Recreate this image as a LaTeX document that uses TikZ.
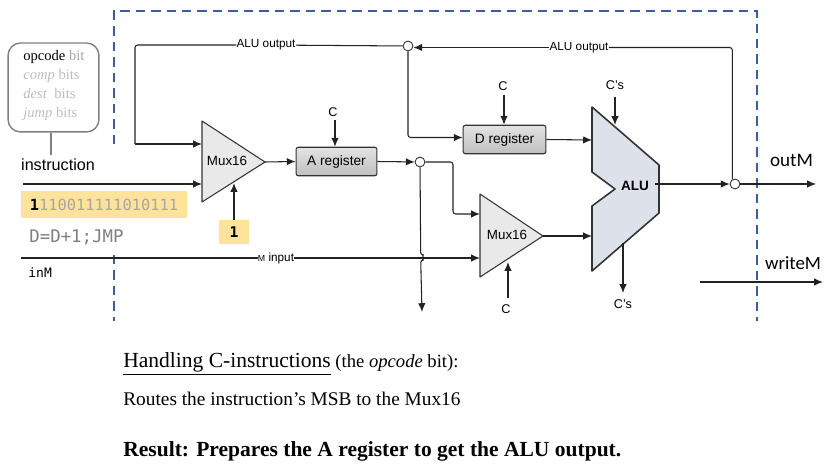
\documentclass[tikz,border=0pt]{standalone}
\usepackage{fontspec}
\setmainfont{Liberation Serif}
\setsansfont{Liberation Sans}
\setmonofont{DejaVu Sans Mono}
\newfontfamily\outfont{Carlito}
\usetikzlibrary{arrows.meta}
\definecolor{wirecol}{HTML}{222222}
\definecolor{edgecol}{HTML}{333333}
\definecolor{dashcol}{HTML}{3C5E9E}
\definecolor{highcol}{HTML}{FFE39B}
\definecolor{fadecol}{HTML}{BDBDBD}
\definecolor{bitcol}{HTML}{A6A6A6}
\definecolor{asmcol}{HTML}{7F7F7F}
\definecolor{alucol}{HTML}{DDE1E9}
\tikzset{
	wire/.style={draw=wirecol,line width=0.6pt,rounded corners=1.5pt},
	arw/.style={wire,-{Latex[length=5pt,width=4.2pt]}},
	frame/.style={draw=dashcol,line width=0.8pt,dash pattern=on 5.4pt off 3.4pt},
	junction/.style={circle,draw=edgecol,fill=white,line width=0.5pt,minimum size=5.6pt,inner sep=0pt},
	register/.style={draw=edgecol,line width=0.6pt,rounded corners=1.2pt,top color=gray!22,bottom color=gray!50,
		minimum height=16.2pt,inner sep=0pt,font=\sffamily\fontsize{7.8}{9}\selectfont},
	mux/.style={draw=edgecol,fill=gray!17,line width=0.6pt,line join=round},
	wirelabel/.style={fill=white,inner sep=0pt,font=\sffamily\fontsize{6.7}{8}\selectfont},
	ctrl/.style={inner sep=0pt,font=\sffamily\fontsize{7.2}{8}\selectfont},
	bitline/.style={anchor=base west,inner sep=0pt,font=\fontsize{8.3}{9}\selectfont,text=fadecol},
	pintext/.style={inner sep=0pt,font=\sffamily\fontsize{9.2}{11}\selectfont},
	noteline/.style={anchor=base west,inner sep=0pt},
}
\begin{document}
\begin{tikzpicture}[x=0.02cm,y=-0.02cm]
	\useasboundingbox (0,0) rectangle (827,469);
	% chip boundary
	\draw[frame] (114,144)--(114,11)--(757,11)--(757,321);
	\draw[frame] (114,255)--(114,321);
	% instruction bits bubble
	\node[draw=gray,line width=0.8pt,rounded corners=7pt,minimum width=51.7pt,minimum height=50.6pt,inner sep=0pt] (bubble) at (53.5,87.5) {};
	\node[bitline] (opcode) at (23,61) {\textcolor{black}{opcode} \textcolor{bitcol}{bit}};
	\node[bitline] (comp) at (23,80) {\textit{comp} bits};
	\node[bitline] (dest) at (23,99) {\textit{dest}\ \ bits};
	\node[bitline] (jump) at (23,118) {\textit{jump} bits};
	\node[pintext] (instr) at (58,165) {instruction};
	\coordinate (stem) at (51,155);
	\draw[draw=gray,line width=0.7pt] (stem|-bubble.south)--(stem);
	% the two muxes and the alu
	\draw[mux] (202,121) coordinate (muxa)--(265,162) coordinate (muxaout)--(202,202)--cycle;
	\node[inner sep=0pt,font=\sffamily\fontsize{7.6}{9}\selectfont] (muxalabel) at (227,161) {Mux16};
	\draw[mux] (480,194) coordinate (muxb)--(543,236) coordinate (muxbout)--(480,277)--cycle;
	\node[inner sep=0pt,font=\sffamily\fontsize{7.6}{9}\selectfont] (muxblabel) at (507,235) {Mux16};
	\draw[draw=edgecol,fill=alucol,line width=0.9pt,line join=round] (592,107)--(659,165)--(659,213)--(592,271)--(592,206)--(615,189)--(592,172)--cycle;
	\node[inner sep=0pt,font=\sffamily\bfseries\fontsize{7.7}{9}\selectfont] (alu) at (635,186) {ALU};
	% registers
	\node[register,minimum width=46pt] (areg) at (336.5,161.5) {A register};
	\node[register,minimum width=47pt] (dreg) at (504.5,139.5) {D register};
	% junctions
	\node[junction] (jtop) at (408,46) {};
	\node[junction] (jareg) at (420,162) {};
	\node[junction] (jout) at (735,184) {};
	% labels on wires
	\node[wirelabel] (aluouta) at (266,45) {ALU output};
	\node[wirelabel] (aluoutb) at (579,47.5) {ALU output};
	\node[wirelabel] (minput) at (276,258) {\fontsize{5}{6}\selectfont M\fontsize{6.7}{8}\selectfont\ input};
	% free ends
	\coordinate (instrin) at (23,184);
	\coordinate (inmin) at (21,258);
	\coordinate (muxain) at (202,144);
	\coordinate (muxasel) at (202,184);
	\coordinate (muxbin) at (480,214);
	\coordinate (muxbm) at (480,258);
	\coordinate (aluin) at (592,140);
	\coordinate (alub) at (592,236);
	\coordinate (aluright) at (655,184);
	\coordinate (outm) at (816,184);
	% feedback wires
	\draw[wire] (aluouta)--(135,45)--(135,144);
	\draw[arw] (135,144)--(muxain);
	\draw[wire] (jtop)--(aluouta);
	\draw[arw] (aluoutb)--(jtop.east|-aluoutb);
	\draw[wire] (jout.120)--(jout.120|-aluoutb)--(aluoutb);
	\draw[arw] (jtop)--(408,137.5)--(dreg.west|-0,137.5);
	% main data path
	\draw[arw] (instrin)--(muxasel);
	\draw[arw] (muxaout)--(areg.west);
	\draw[arw] (areg.east)--(jareg);
	\draw[arw] (jareg)--(453,162)--(453,214)--(muxbin);
	\draw[wire] (inmin)--(minput);
	\draw[arw] (minput)--(muxbm);
	\draw[arw] (jareg)--(420.7,255) arc[start angle=-90,end angle=90,radius=2.5]--(422,312) coordinate (addr);
	\draw[arw] (muxbout)--(alub);
	\draw[arw] (dreg.east)--(aluin);
	\draw[arw] (aluright)--(jout);
	\draw[arw] (jout)--(outm);
	% control bits
	\node[ctrl] (ca) at (333,112) {C};
	\draw[arw] (335,120) coordinate (caend)--(caend|-areg.north);
	\node[ctrl] (cd) at (503,86) {C};
	\draw[arw] (504,95) coordinate (cdend)--(cdend|-dreg.north);
	\node[ctrl] (cb) at (506,309) {C};
	\draw[arw] (508,298) coordinate (cbend)--(508,262);
	\node[ctrl] (cstop) at (615,85) {C's};
	\draw[arw] (615,97) coordinate (csend)--(615,125);
	\node[ctrl] (csbot) at (623,304) {C's};
	\draw[arw] (623,243)--(623,293);
	% current instruction values
	\node[fill=highcol,minimum width=94.4pt,minimum height=15.4pt,inner sep=0pt] (binary) at (104,204.5) {};
	\node[inner sep=0pt,font=\ttfamily\fontsize{8.75}{10}\selectfont,text=bitcol] (bits) at (binary) {\textcolor{black}{\bfseries 1}110011111010111};
	\node[anchor=west,inner sep=0pt,font=\ttfamily\fontsize{9.9}{11}\selectfont,text=asmcol] (asm) at (29,237) {D=D+1;JMP};
	\node[anchor=west,inner sep=0pt,font=\ttfamily\fontsize{7.4}{9}\selectfont] (inm) at (28,273) {inM};
	\node[fill=highcol,minimum width=17pt,minimum height=13.6pt,inner sep=0pt,font=\ttfamily\bfseries\fontsize{8.4}{10}\selectfont] (selbit) at (234,232) {1};
	\draw[arw] (selbit)--(234,183);
	% outputs
	\node[inner sep=0pt,font=\outfont\fontsize{10.9}{12}\selectfont] (outmlabel) at (791.5,160) {outM};
	\node[inner sep=0pt,font=\outfont\fontsize{10.7}{12}\selectfont] (writem) at (793,263) {writeM};
	\coordinate (writea) at (700,282);
	\coordinate (writeb) at (823,282);
	\draw[arw] (writea)--(writeb);
	% caption
	\node[noteline,font=\fontsize{10.6}{13}\selectfont] (title) at (123,367) {{\fontsize{12.25}{13}\selectfont\underline{Handling C-instructions}} (the \textit{opcode} bit):};
	\node[noteline,font=\fontsize{11}{12}\selectfont] (routes) at (123,405) {Routes the instruction’s MSB to the Mux16};
	\node[noteline,font=\bfseries\fontsize{12.25}{14}\selectfont] (result) at (123,456) {Result: Prepares the A register to get the ALU output.};
\end{tikzpicture}
\end{document}
